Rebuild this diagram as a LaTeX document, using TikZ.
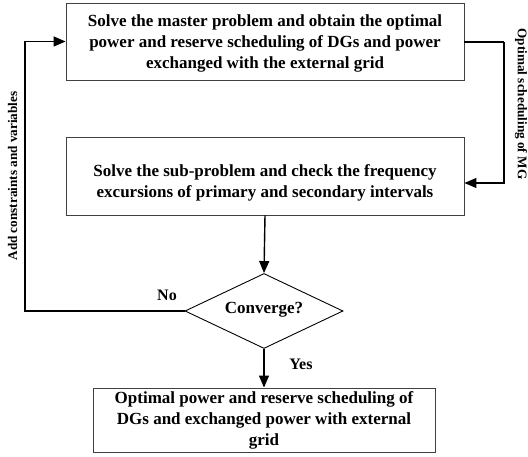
\documentclass[tikz,border=0pt]{standalone}
\usepackage{fontspec}
\setmainfont{Liberation Serif}
\usetikzlibrary{shapes.geometric,arrows.meta}
\begin{document}
\begin{tikzpicture}[x=1pt,y=-1pt,
  boxframe/.style={draw=black!75,line width=0.9pt,inner sep=0pt},
  boxtext/.style={align=center,font=\bfseries\fontsize{17}{21}\selectfont,inner sep=0pt},
  sidetext/.style={font=\bfseries\fontsize{13.2}{15}\selectfont,inner sep=0pt},
  yntext/.style={font=\bfseries\fontsize{16}{18}\selectfont,inner sep=0pt},
  conn/.style={line width=1.4pt,-{Triangle[length=12pt,width=10pt]}},
  connplain/.style={line width=1.4pt}]
\useasboundingbox (0,0) rectangle (528,457);
% boxes
\node[boxframe,minimum width=398pt,minimum height=77pt] (b1) at (265,41.5) {};
\node[boxtext] (t1) at (265,43.5) {Solve the master problem and obtain the optimal\\power and reserve scheduling of DGs and power\\exchanged with the external grid};
\node[boxframe,minimum width=398pt,minimum height=78pt] (b2) at (265,176) {};
\node[boxtext] (t2) at (265,183) {Solve the sub-problem and check the frequency\\excursions of primary and secondary intervals};
\node[diamond,draw=black,line width=0.9pt,minimum width=158pt,minimum height=75pt,inner sep=0pt,aspect=2.1] (d) at (264,311) {};
\node[boxtext] (td) at (264,310) {Converge?};
\node[boxframe,minimum width=342pt,minimum height=64pt] (b3) at (264,420) {};
\node[boxtext] (t3) at (264,420) {Optimal power and reserve scheduling of\\DGs and exchanged power with external\\grid};
% connectors
\coordinate (r1) at (504,42);
\coordinate (r2) at (504,183);
\draw[connplain] (b1.east |- r1) -- (r1);
\draw[conn] (r1) -- (r2) -- (b2.east |- r2);
\coordinate (l1) at (25,311);
\coordinate (l2) at (25,41.5);
\draw[conn] (d.west) -- (l1) -- (l2) -- (b1.west);
\draw[conn] (b2.south) -- (d.north);
\draw[conn] (d.south) -- (b3.north);
% labels
\node[yntext] (no) at (167,295) {No};
\node[yntext] (yes) at (301,364) {Yes};
\node[sidetext,rotate=90] (add) at (12.5,176) {Add constraints and variables};
\node[sidetext,rotate=-90] (opt) at (521,104) {Optimal scheduling of MG};
\end{tikzpicture}
\end{document}
